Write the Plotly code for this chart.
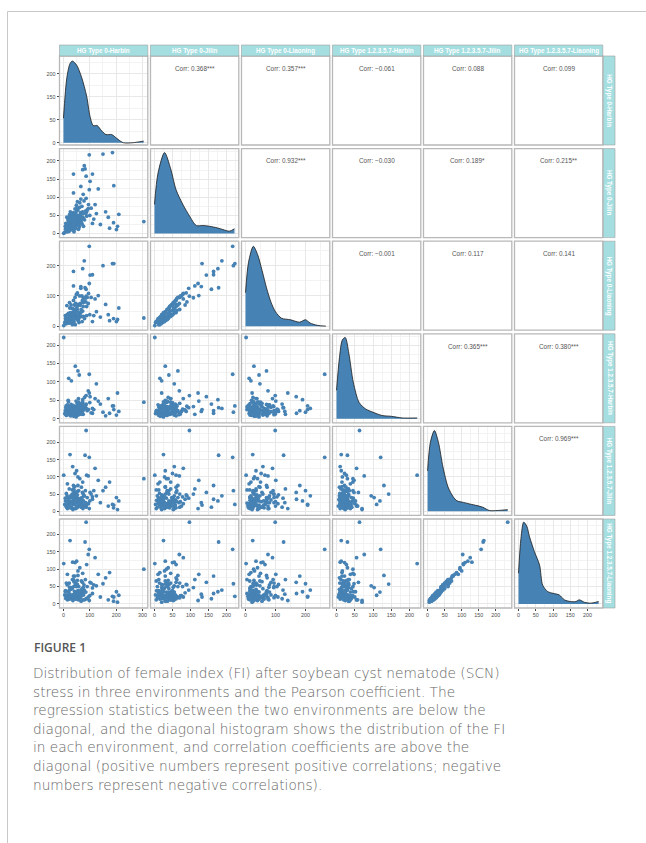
import plotly.graph_objects as go

W, H = 646, 843

var_names = ["HG Type 0-Harbin", "HG Type 0-Jilin", "HG Type 0-Liaoning",
             "HG Type 1.2.3.5.7-Harbin", "HG Type 1.2.3.5.7-Jilin", "HG Type 1.2.3.5.7-Liaoning"]

# Female index (FI) per line
t0_harbin = [98, 186, 150, 79, 82, 73, 38, 86, 110, 101, 191, 132, 66, 75, 98, 38,
             1, 305, 86, 25, 94,
             210, 201, 170, 160, 140, 125, 190, 205, 175, 115,
             45, 60, 30, 55, 20,
             44, 88, 73, 50, 62, 35, 15, 120, 55,
             12, 20, 35, 45, 55, 65, 28, 40, 50, 70, 18, 8, 30, 42, 58, 75, 22, 48, 62, 85,
             15, 33, 52, 68, 25, 38, 47, 57, 90, 10, 27, 36, 44, 53, 63, 78, 5, 19, 31, 41,
             49, 59, 72, 100, 14, 24, 34, 46, 56, 66, 80, 11, 21, 37, 43, 51, 61, 71, 95, 17,
             29, 39, 54, 64, 76, 105, 9, 23, 32, 48, 60, 69, 83, 26, 37, 45, 53, 67, 110, 13,
             40, 88, 57, 74, 7]
t0_jilin = [217, 223, 219, 187, 178, 176, 164, 158, 164, 144, 132, 123, 130, 108, 121, 112,
            1, 33, 97, 25, 69,
            53, 11, 45, 60, 25, 55, 30, 20, 15, 40,
            30, 40, 20, 65, 15,
            50, 60, 45, 30, 38, 55, 10, 80, 28,
            8, 15, 28, 40, 50, 58, 22, 35, 62, 75, 30, 12, 18, 48, 35, 42, 45, 25, 85, 55,
            5, 40, 70, 30, 35, 58, 20, 45, 65, 18, 10, 52, 68, 38, 48, 90, 3, 25, 32, 16,
            78, 22, 60, 50, 22, 40, 12, 55, 28, 95, 38, 14, 6, 46, 30, 42, 72, 26, 80, 38,
            48, 8, 33, 52, 20, 70, 28, 52, 15, 36, 18, 44, 62, 60, 24, 14, 88, 36, 28, 45,
            5, 48, 12, 55, 20]
t0_liaoning = [264, 207, 200, 216, 127, 190, 181, 122, 170, 169, 207, 101, 131, 94, 141, 133,
               2, 27, 99, 24, 75,
               60, 15, 38, 72, 30, 48, 25, 22, 18, 35,
               28, 45, 18, 70, 12,
               52, 65, 50, 35, 40, 58, 12, 90, 30,
               18, 10, 45, 30, 72, 45, 35, 55, 52, 100, 20, 25, 10, 70, 25, 65, 35, 45, 70, 80,
               15, 58, 55, 48, 22, 85, 38, 35, 95, 8, 25, 40, 95, 28, 70, 80, 12, 42, 20, 30,
               105, 12, 85, 38, 38, 60, 5, 75, 18, 125, 25, 28, 15, 35, 45, 62, 100, 15, 108, 25,
               70, 18, 22, 75, 32, 95, 18, 78, 25, 25, 32, 32, 92, 45, 38, 5, 110, 55, 15, 68,
               14, 35, 25, 78, 35]
t12357_harbin = [121, 35, 18, 28, 30, 52, 22, 40, 15, 60, 25, 48, 20, 33, 70, 12,
                 221, 45, 63, 13, 76,
                 20, 10, 55, 8, 40, 95, 35, 70, 15, 25,
                 143, 119, 103, 130, 110,
                 22, 27, 45, 13, 30, 10, 38, 55, 16,
                 18, 25, 10, 30, 15, 40, 8, 22, 35, 20, 50, 12, 28, 18, 45, 12, 33, 5, 24, 38,
                 20, 14, 42, 26, 9, 31, 17, 55, 22, 35, 19, 24, 11, 29, 16, 34, 14, 46, 21, 7,
                 26, 37, 19, 44, 27, 12, 32, 23, 18, 30, 58, 9, 23, 36, 15, 28, 13, 41, 25, 17,
                 39, 20, 10, 32, 24, 16, 30, 14, 26, 48, 21, 12, 35, 18, 8, 25, 20, 33, 28, 16,
                 19, 27, 11, 38, 22]
t12357_jilin = [157, 20, 60, 45, 163, 30, 75, 12, 35, 55, 18, 90, 25, 50, 8, 65,
                105, 95, 235, 165, 103,
                30, 40, 15, 70, 25, 45, 10, 5, 85, 60,
                50, 30, 40, 75, 20,
                110, 105, 85, 118, 95, 130, 80, 125, 100,
                12, 20, 8, 25, 35, 18, 45, 55, 28, 15, 22, 30, 10, 40, 60, 20, 65, 15, 35, 25,
                8, 50, 12, 70, 22, 33, 48, 18, 40, 15, 28, 5, 25, 58, 30, 45, 20, 38, 12, 35,
                42, 22, 55, 30, 45, 18, 62, 8, 26, 38, 15, 52, 32, 20, 72, 10, 28, 40, 22, 14,
                25, 45, 38, 15, 30, 50, 18, 40, 26, 55, 35, 20, 60, 10, 32, 24, 48, 12, 42, 28,
                62, 18, 22, 8, 38]
t12357_liaoning = [157, 22, 58, 40, 178, 35, 80, 15, 30, 62, 20, 85, 28, 47, 10, 70,
                   116, 100, 235, 182, 142,
                   25, 35, 12, 75, 20, 52, 8, 5, 90, 55,
                   57, 34, 47, 82, 25,
                   119, 113, 88, 123, 104, 120, 85, 133, 95,
                   18, 14, 14, 22, 38, 24, 42, 64, 22, 24, 20, 38, 16, 36, 50, 28, 60, 20, 32, 34,
                   12, 44, 18, 66, 28, 26, 56, 12, 50, 22, 22, 10, 18, 68, 28, 55, 26, 35, 18, 28,
                   50, 16, 62, 24, 55, 16, 70, 14, 24, 40, 12, 60, 38, 18, 80, 14, 24, 44, 20, 20,
                   22, 50, 34, 18, 26, 60, 16, 48, 20, 58, 32, 24, 70, 15, 26, 30, 56, 8, 46, 26,
                   66, 16, 28, 12, 36]
series = [t0_harbin, t0_jilin, t0_liaoning, t12357_harbin, t12357_jilin, t12357_liaoning]

# Upper-triangle correlation labels (row-major order)
corr_labels = ["Corr: 0.368***", "Corr: 0.357***", "Corr: \u22120.061", "Corr: 0.088", "Corr: 0.099",
               "Corr: 0.932***", "Corr: \u22120.030", "Corr: 0.189*", "Corr: 0.215**",
               "Corr: \u22120.001", "Corr: 0.117", "Corr: 0.141",
               "Corr: 0.365***", "Corr: 0.380***",
               "Corr: 0.969***"]

# Diagonal density curves (x = FI, h = relative density)
dens_x = [
    [0, 13, 25, 34, 50, 69, 88, 101, 113, 128, 145, 161, 183, 202, 227, 264, 289, 304],
    [0, 10, 28, 45, 60, 80, 97, 116, 135, 153, 175, 190, 208, 222],
    [0, 10, 26, 40, 55, 70, 85, 100, 120, 150, 180, 200, 215, 240, 268],
    [0, 8, 16, 24, 34, 46, 62, 80, 100, 125, 150, 180, 221],
    [0, 8, 20, 32, 45, 60, 75, 86, 105, 124, 145, 162, 181, 205, 235],
    [0, 7, 15, 24, 32, 46, 61, 70, 85, 100, 118, 133, 150, 166, 176, 191, 210, 232],
]
dens_h = [
    [0.30, 0.80, 0.97, 1.0, 0.95, 0.80, 0.57, 0.32, 0.21, 0.21, 0.145, 0.10, 0.10, 0.054, 0.0, 0.0, 0.012, 0.02],
    [0.36, 0.75, 1.0, 0.80, 0.54, 0.35, 0.22, 0.10, 0.10, 0.09, 0.07, 0.05, 0.03, 0.06],
    [0.42, 0.80, 1.0, 0.90, 0.70, 0.48, 0.30, 0.18, 0.10, 0.08, 0.05, 0.08, 0.04, 0.01, 0.0],
    [0.35, 0.75, 0.97, 1.0, 0.80, 0.45, 0.20, 0.12, 0.08, 0.04, 0.03, 0.01, 0.01],
    [0.50, 0.85, 1.0, 0.85, 0.55, 0.30, 0.18, 0.13, 0.11, 0.09, 0.07, 0.05, 0.01, 0.01, 0.02],
    [0.375, 0.80, 1.0, 0.95, 0.82, 0.64, 0.475, 0.23, 0.15, 0.13, 0.11, 0.05, 0.03, 0.03, 0.05, 0.02, 0.01, 0.03],
]

caption_title = "FIGURE 1"
caption_lines = [
    "Distribution of female index (FI) after soybean cyst nematode (SCN)",
    "stress in three environments and the Pearson coefficient. The",
    "regression statistics between the two environments are below the",
    "diagonal, and the diagonal histogram shows the distribution of the FI",
    "in each environment, and correlation coefficients are above the",
    "diagonal (positive numbers represent positive correlations; negative",
    "numbers represent negative correlations).",
]

# ---------------- layout constants ----------------
axis_range = [[-15, 320], [-11, 234], [-13.4, 281], [-11, 231], [-12, 247], [-11.6, 244]]
axis_dtick = [100, 50, 100, 50, 50, 50]
row1_range = [-5, 189]
row1_tickvals = [0, 50, 100, 150]
row1_ticktext = ["0", "50", "150", "200"]
row1_peak = 178

X0, PX, PW = 59.5, 91.0, 88.3
Y0, PY, PH = 56.0, 92.6, 89.0
STEEL = "rgb(70,130,180)"
STRIP = "rgb(164,222,224)"
FONT = "Liberation Sans, Arial, sans-serif"


def fx(x):
    return x / W


def fy(y):
    return 1 - y / H


fig = go.Figure()
layout = {}
shapes = []
annotations = []
ci = 0
for i in range(6):
    for j in range(6):
        k = i * 6 + j + 1
        sfx = "" if k == 1 else str(k)
        x0 = X0 + PX * j
        x1 = x0 + PW
        y0 = Y0 + PY * i
        y1 = y0 + PH
        bottom = i == 5
        left = j == 0
        xa = dict(domain=[fx(x0), fx(x1)], range=axis_range[j], anchor="y" + sfx,
                  tick0=0, dtick=axis_dtick[j],
                  minor=dict(tick0=0, dtick=axis_dtick[j] / 2, showgrid=True,
                             gridcolor="#f3f3f3", gridwidth=0.5),
                  showgrid=True, gridcolor="#e8e8e8", gridwidth=0.7,
                  zeroline=False, showline=False, fixedrange=True,
                  showticklabels=bottom, ticks="outside" if bottom else "",
                  ticklen=2, tickwidth=0.6, tickcolor="#444",
                  tickfont=dict(size=5.4, color="#4d4d4d", family=FONT))
        if i == 0:
            ya = dict(range=row1_range, tickmode="array", tickvals=row1_tickvals,
                      ticktext=row1_ticktext,
                      minor=dict(tickmode="array", tickvals=[25, 75, 125, 175], showgrid=True,
                                 gridcolor="#f3f3f3", gridwidth=0.5))
        else:
            ya = dict(range=axis_range[i], tick0=0, dtick=axis_dtick[i],
                      minor=dict(tick0=0, dtick=axis_dtick[i] / 2, showgrid=True,
                                 gridcolor="#f3f3f3", gridwidth=0.5))
        ya.update(domain=[fy(y1), fy(y0)], anchor="x" + sfx,
                  showgrid=True, gridcolor="#e8e8e8", gridwidth=0.7,
                  zeroline=False, showline=False, fixedrange=True,
                  showticklabels=left, ticks="outside" if left else "",
                  ticklen=2, tickwidth=0.6, tickcolor="#444",
                  tickfont=dict(size=5.4, color="#4d4d4d", family=FONT))
        layout["xaxis" + sfx] = xa
        layout["yaxis" + sfx] = ya

        if i > j:
            fig.add_trace(go.Scatter(x=series[j], y=series[i], mode="markers",
                                     marker=dict(color=STEEL, size=3.8, line=dict(width=0)),
                                     xaxis="x" + sfx, yaxis="y" + sfx, showlegend=False,
                                     hoverinfo="skip"))
        elif i == j:
            peak = row1_peak if i == 0 else max(series[i])
            fig.add_trace(go.Scatter(x=dens_x[i], y=[h * peak for h in dens_h[i]],
                                     mode="lines", line=dict(color="#1a1a1a", width=0.8, shape="spline",
                                                             smoothing=0.8),
                                     fill="tozeroy", fillcolor=STEEL,
                                     xaxis="x" + sfx, yaxis="y" + sfx, showlegend=False,
                                     hoverinfo="skip"))
        else:
            annotations.append(dict(text=corr_labels[ci], xref="paper", yref="paper",
                                    x=fx((x0 + x1) / 2), y=fy(y0 + 12.3), showarrow=False,
                                    xanchor="center", yanchor="middle",
                                    font=dict(size=6.4, color="#555555", family=FONT)))
            ci += 1

        # panel border
        shapes.append(dict(type="rect", xref="paper", yref="paper",
                           x0=fx(x0), x1=fx(x1), y0=fy(y1), y1=fy(y0),
                           line=dict(color="#b8b8b8", width=1.3), fillcolor="rgba(0,0,0,0)",
                           layer="above"))

# strips
for j in range(6):
    x0 = X0 + PX * j
    x1 = x0 + PW
    shapes.append(dict(type="rect", xref="paper", yref="paper",
                       x0=fx(x0), x1=fx(x1), y0=fy(56.0), y1=fy(45.0),
                       line=dict(color="#a0a0a0", width=0.6), fillcolor=STRIP, layer="above"))
    annotations.append(dict(text="<b>" + var_names[j] + "</b>", xref="paper", yref="paper",
                            x=fx((x0 + x1) / 2), y=fy(50.6), showarrow=False,
                            xanchor="center", yanchor="middle",
                            font=dict(size=6.3, color="white", family=FONT)))
for i in range(6):
    y0 = Y0 + PY * i
    y1 = y0 + PH
    shapes.append(dict(type="rect", xref="paper", yref="paper",
                       x0=fx(603.3), x1=fx(615.0), y0=fy(y1), y1=fy(y0),
                       line=dict(color="#a0a0a0", width=0.6), fillcolor=STRIP, layer="above"))
    annotations.append(dict(text="<b>" + var_names[i] + "</b>", xref="paper", yref="paper",
                            x=fx(609.2), y=fy((y0 + y1) / 2), showarrow=False,
                            xanchor="center", yanchor="middle", textangle=90,
                            font=dict(size=6.3, color="white", family=FONT)))

# page frame lines
shapes.append(dict(type="line", xref="paper", yref="paper", x0=fx(7.5), x1=1.0,
                   y0=fy(11.5), y1=fy(11.5), line=dict(color="#c8c8c8", width=1)))
shapes.append(dict(type="line", xref="paper", yref="paper", x0=fx(7.5), x1=fx(7.5),
                   y0=fy(11.5), y1=0.0, line=dict(color="#c8c8c8", width=1)))

# caption
annotations.append(dict(text=caption_title, xref="paper", yref="paper", x=fx(31.5), y=fy(647),
                        showarrow=False, xanchor="left", yanchor="middle",
                        font=dict(size=12, color="#555555", family="Open Sans, sans-serif",
                                  weight=600)))
for n, line in enumerate(caption_lines):
    annotations.append(dict(text=line, xref="paper", yref="paper",
                            x=fx(31), y=fy(673 + 18.6 * n), showarrow=False, align="left",
                            xanchor="left", yanchor="middle",
                            font=dict(size=13.7, color="#666666", family="DejaVu Sans, sans-serif",
                                      weight=300)))

fig.update_layout(width=W, height=H, autosize=False,
                  margin=dict(l=0, r=0, t=0, b=0, pad=0),
                  paper_bgcolor="white", plot_bgcolor="white",
                  shapes=shapes, annotations=annotations, showlegend=False,
                  **layout)

fig.write_html("out.html", config={"displayModeBar": False})
